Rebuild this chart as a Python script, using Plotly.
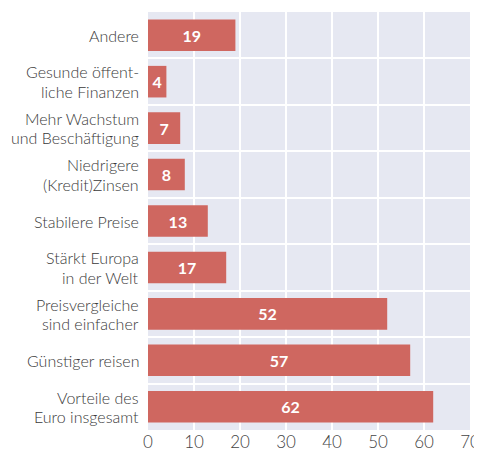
import plotly.graph_objects as go

categories = [
    "Andere",
    "Gesunde öffent-<br>liche Finanzen",
    "Mehr Wachstum<br>und Beschäftigung",
    "Niedrigere<br>(Kredit)Zinsen",
    "Stabilere Preise",
    "Stärkt Europa<br>in der Welt",
    "Preisvergleiche<br>sind einfacher",
    "Günstiger reisen",
    "Vorteile des<br>Euro insgesamt",
]
values = [19, 4, 7, 8, 13, 17, 52, 57, 62]
x_ticks = [0, 10, 20, 30, 40, 50, 60, 70]

ypos = list(range(len(categories)))

fig = go.Figure(go.Bar(
    x=values, y=ypos, orientation="h",
    marker=dict(color="#cf6760", line=dict(width=0)),
    width=0.68,
    text=[str(v) for v in values],
    textposition="inside", insidetextanchor="middle",
    textfont=dict(color="white", size=16, family="Lato", weight="bold"),
    cliponaxis=False,
))

# category labels, one annotation per text line
LINE_GAP = 19.5
for yi, label in zip(ypos, categories):
    lines = label.split("<br>")
    n = len(lines)
    for k, line in enumerate(lines):
        shift = ((n - 1) / 2 - k) * LINE_GAP
        fig.add_annotation(
            text=line, xref="paper", x=0, y=yi, yref="y",
            xanchor="right", yanchor="middle", xshift=-8, yshift=shift,
            showarrow=False, borderpad=0,
            font=dict(family="Lato", size=16, color="#3a3a3a", weight=300),
        )

# page body has an 8px margin, so the figure is offset by 8px
fig.update_layout(
    width=474, height=445,
    margin=dict(l=140, r=12, t=4, b=23, autoexpand=False),
    paper_bgcolor="white", plot_bgcolor="#e6e8f2",
    font=dict(family="Lato", color="#333333"),
    showlegend=False, bargap=0.3,
    uniformtext=dict(minsize=10, mode="show"),
)
fig.update_xaxes(
    range=[0, 70], tickvals=x_ticks, showgrid=True, gridcolor="white", gridwidth=1.5,
    zeroline=False, showline=False, ticks="", automargin=False,
    tickfont=dict(size=17, color="#444444", weight=300),
    fixedrange=True,
)
fig.update_yaxes(
    range=[len(categories) - 0.5, -0.5], tickvals=ypos, showticklabels=False,
    showgrid=False, zeroline=False, showline=False, ticks="", automargin=False,
    minor=dict(tick0=0.5, dtick=1, showgrid=True, gridcolor="white", gridwidth=1.5, ticks=""),
)

fig.write_html("out.html")
